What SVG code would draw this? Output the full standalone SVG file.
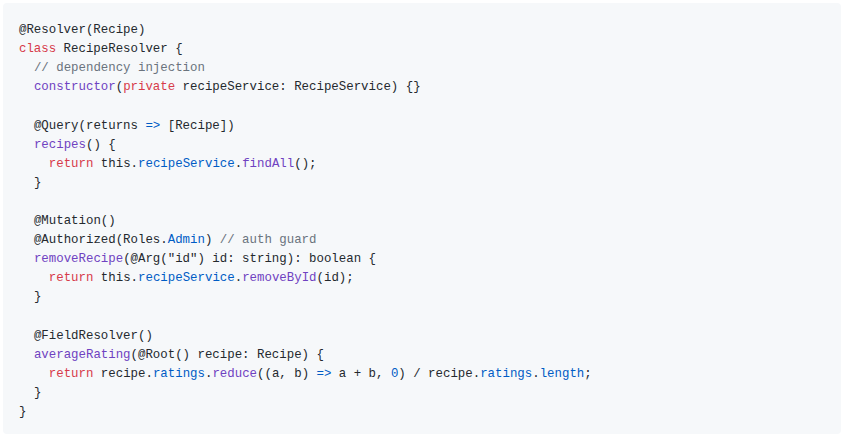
<svg xmlns="http://www.w3.org/2000/svg" width="854" height="443" viewBox="0 0 854 443">
<style>
text{font-family:"Liberation Mono","DejaVu Sans Mono",monospace;font-size:12.4px;fill:#24292e;white-space:pre}
.k{fill:#d73a49}.f{fill:#6f42c1}.p{fill:#005cc5}.c{fill:#6a737d}
</style>
<rect x="0" y="0" width="854" height="443" fill="#ffffff"/>
<g id="code-block">
<rect x="3" y="3" width="838" height="431" rx="4" fill="#f6f8fa"/>
<text xml:space="preserve" x="19" y="33">@Resolver(Recipe)</text>
<text xml:space="preserve" x="19" y="52.1"><tspan class="k">class</tspan> RecipeResolver {</text>
<text xml:space="preserve" x="33.9" y="71.2" class="c">// dependency injection</text>
<text xml:space="preserve" x="33.9" y="90.3"><tspan class="f">constructor</tspan>(<tspan class="k">private</tspan> recipeService: RecipeService) {}</text>
<text xml:space="preserve" x="33.9" y="128.5">@Query(returns <tspan class="p">=&gt;</tspan> [Recipe])</text>
<text xml:space="preserve" x="33.9" y="147.6"><tspan class="f">recipes</tspan>() {</text>
<text xml:space="preserve" x="48.8" y="166.7"><tspan class="k">return</tspan> this.<tspan class="p">recipeService</tspan>.<tspan class="f">findAll</tspan>();</text>
<text xml:space="preserve" x="33.9" y="185.8">}</text>
<text xml:space="preserve" x="33.9" y="224">@Mutation()</text>
<text xml:space="preserve" x="33.9" y="243.1">@Authorized(Roles.<tspan class="p">Admin</tspan>) <tspan class="c">// auth guard</tspan></text>
<text xml:space="preserve" x="33.9" y="262.2"><tspan class="f">removeRecipe</tspan>(@Arg("id") id: string): boolean {</text>
<text xml:space="preserve" x="48.8" y="281.3"><tspan class="k">return</tspan> this.<tspan class="p">recipeService</tspan>.<tspan class="f">removeById</tspan>(id);</text>
<text xml:space="preserve" x="33.9" y="300.4">}</text>
<text xml:space="preserve" x="33.9" y="338.6">@FieldResolver()</text>
<text xml:space="preserve" x="33.9" y="357.7"><tspan class="f">averageRating</tspan>(@Root() recipe: Recipe) {</text>
<text xml:space="preserve" x="48.8" y="376.8"><tspan class="k">return</tspan> recipe.<tspan class="p">ratings</tspan>.<tspan class="f">reduce</tspan>((a, b) <tspan class="p">=&gt;</tspan> a + b, <tspan class="p">0</tspan>) / recipe.<tspan class="p">ratings</tspan>.<tspan class="p">length</tspan>;</text>
<text xml:space="preserve" x="33.9" y="395.9">}</text>
<text xml:space="preserve" x="19" y="415">}</text>
</g>
</svg>
